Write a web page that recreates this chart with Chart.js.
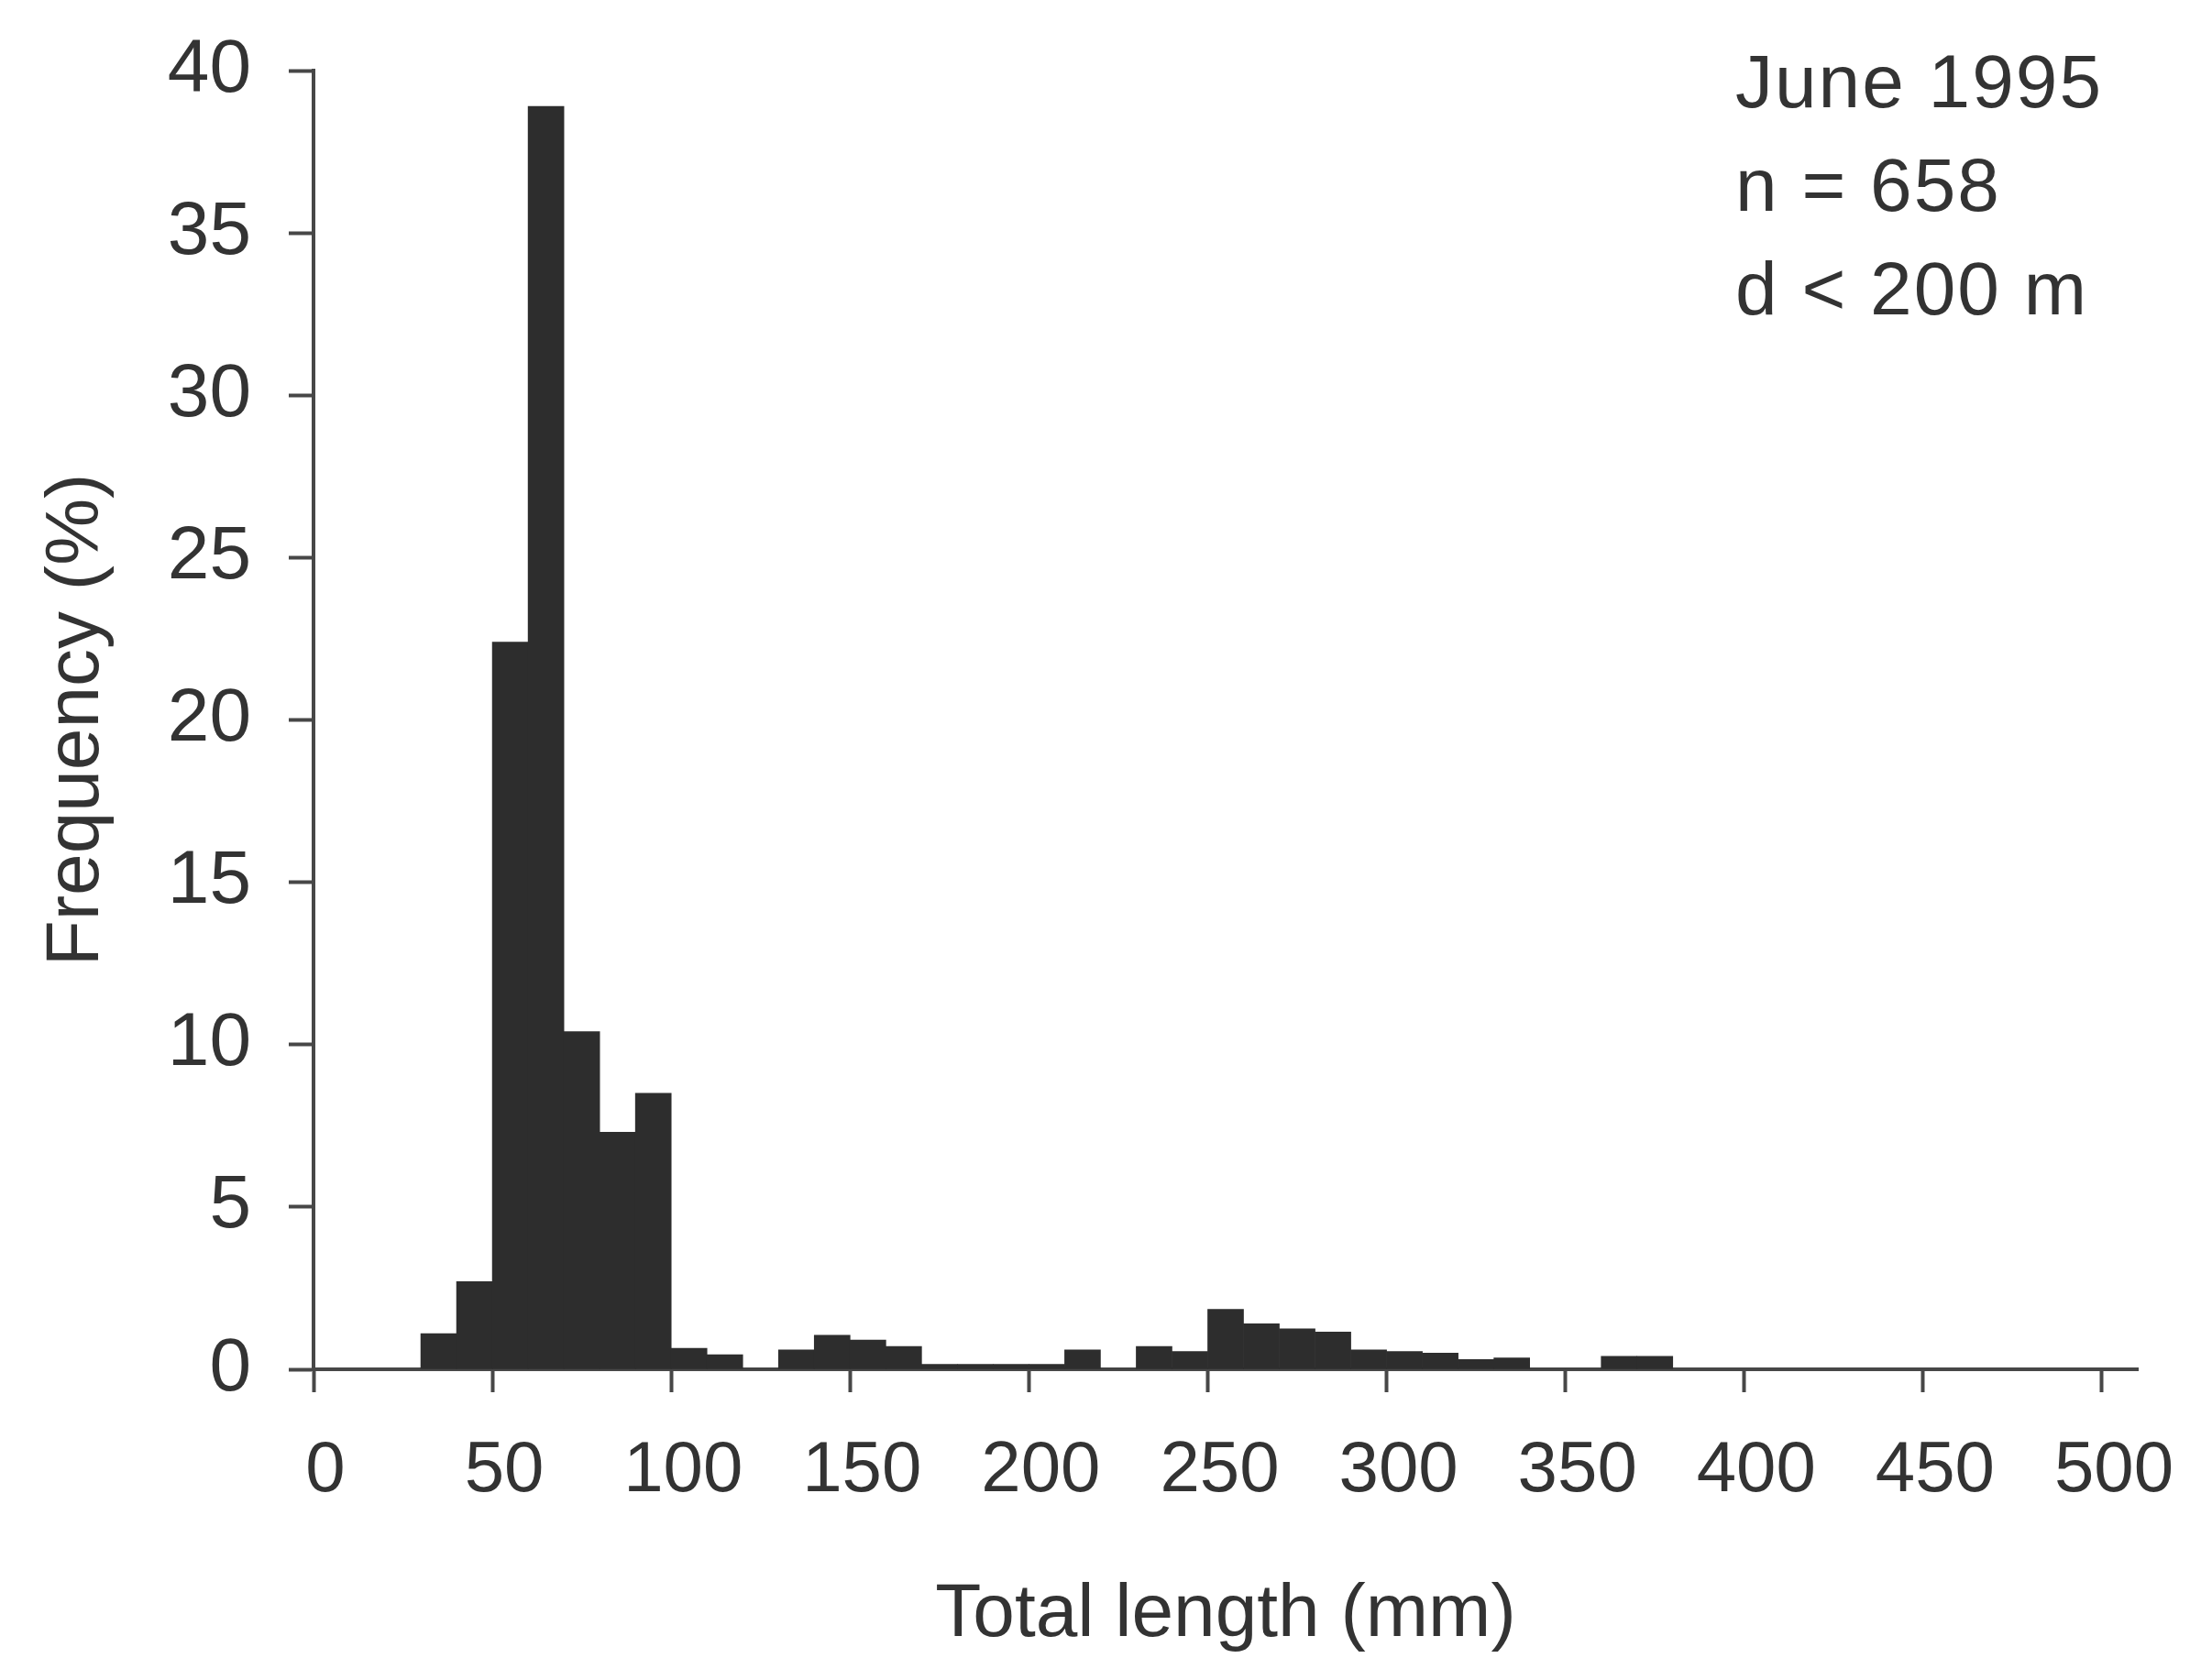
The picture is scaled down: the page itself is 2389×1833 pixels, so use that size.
<!DOCTYPE html>
<html>
<head>
<meta charset="utf-8">
<script src="https://cdn.jsdelivr.net/npm/chart.js@4.4.1/dist/chart.umd.min.js"></script>
<style>
  html, body { margin: 0; padding: 0; background: #fff; }
  #wrap { width: 2389px; height: 1833px; }
</style>
</head>
<body>
<div id="wrap"><canvas id="lengthChart"></canvas></div>
<script>
// Length-frequency, June 1995 (10 mm bins, lower edge of each bin)
const binStart = [30, 40, 50, 60, 70, 80, 90, 100, 110, 120, 130, 140, 150, 160, 170, 180, 190, 200,
                  210, 220, 230, 240, 250, 260, 270, 280, 290, 300, 310, 320, 330, 340, 350, 360, 370];
const frequency = [1.1, 2.7, 22.4, 38.9, 10.4, 7.3, 8.5, 0.65, 0.45, 0, 0.6, 1.05, 0.9, 0.7, 0.15, 0.15, 0.15, 0.15,
                   0.6, 0, 0.7, 0.55, 1.85, 1.4, 1.25, 1.15, 0.6, 0.55, 0.5, 0.3, 0.35, 0, 0, 0.4, 0.4];
const binWidth = 10;
const xTicks = [0, 50, 100, 150, 200, 250, 300, 350, 400, 450, 500];
const yTicks = [0, 5, 10, 15, 20, 25, 30, 35, 40];
const noteLines = ['June 1995', 'n = 658', 'd < 200 m'];

const FONT = '"Liberation Sans", Arial, Helvetica, sans-serif';
const INK = '#333333';
const AXIS = '#474747';

const points = binStart.map((b, i) => ({ x: b + binWidth / 2, y: frequency[i] }));

// text block in the upper right corner
const notePlugin = {
  id: 'note',
  afterDraw(chart) {
    const ctx = chart.ctx;
    ctx.save();
    ctx.font = '82px ' + FONT;
    ctx.fillStyle = INK;
    ctx.textAlign = 'left';
    ctx.textBaseline = 'alphabetic';
    ctx.letterSpacing = '2px';
    noteLines.forEach((t, i) => ctx.fillText(t, 1893, 117 + i * 113));
    ctx.restore();
  }
};

const ctx = document.getElementById('lengthChart').getContext('2d');
const chart = new Chart(ctx, {
  type: 'bar',
  data: {
    datasets: [{
      data: points,
      backgroundColor: '#2d2d2d',
      borderWidth: 0,
      barPercentage: 1,
      categoryPercentage: 1
    }]
  },
  options: {
    responsive: true,
    maintainAspectRatio: false,
    animation: false,
    layout: { padding: { top: 77, right: 57, bottom: 0, left: 0 } },
    plugins: { legend: { display: false }, tooltip: { enabled: false } },
    scales: {
      x: {
        type: 'linear',
        min: 0,
        max: 510,
        offset: false,
        afterBuildTicks: (scale) => { scale.ticks = xTicks.map(v => ({ value: v })); },
        afterFit: (scale) => {
          scale.height = 339;
          scale.paddingLeft = 0;
          scale.paddingRight = 0;
        },
        ticks: {
          color: INK,
          font: { family: FONT, size: 78 },
          padding: 40,
          labelOffset: 13,
          maxRotation: 0,
          autoSkip: false
        },
        grid: { offset: false, drawOnChartArea: false, drawTicks: true, tickLength: 25, tickColor: AXIS, tickWidth: 4 },
        border: { display: true, color: AXIS, width: 4 },
        title: {
          display: true,
          text: 'Total length (mm)',
          color: INK,
          font: { family: FONT, size: 82 },
          padding: { top: 0, bottom: 21 }
        }
      },
      y: {
        min: 0,
        max: 40,
        afterBuildTicks: (scale) => { scale.ticks = yTicks.map(v => ({ value: v })); },
        afterFit: (scale) => {
          scale.width = 342;
          scale.paddingTop = 0;
          scale.paddingBottom = 0;
        },
        ticks: {
          color: INK,
          font: { family: FONT, size: 82 },
          padding: 41
        },
        grid: { drawOnChartArea: false, drawTicks: true, tickLength: 27, tickColor: AXIS, tickWidth: 4 },
        border: { display: true, color: AXIS, width: 4 },
        title: {
          display: true,
          text: 'Frequency (%)',
          color: INK,
          font: { family: FONT, size: 82 },
          padding: { top: 35, bottom: 0 }
        }
      }
    }
  },
  plugins: [notePlugin]
});
</script>
</body>
</html>
